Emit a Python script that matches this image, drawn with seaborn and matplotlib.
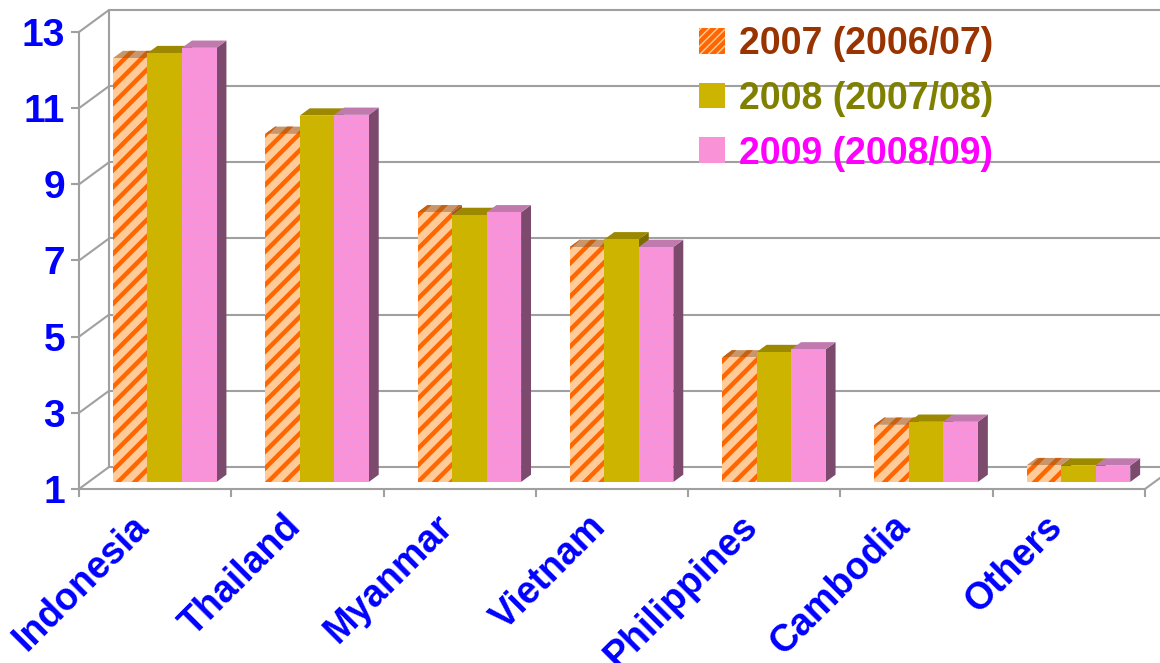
import numpy as np
import pandas as pd
import matplotlib
matplotlib.use('Agg')
import matplotlib.pyplot as plt
from matplotlib.patches import Polygon, Patch
from matplotlib.transforms import ScaledTranslation
import seaborn as sns

sns.set_style('white')
plt.rcParams['font.family'] = ['Liberation Sans', 'DejaVu Sans']
plt.rcParams['hatch.linewidth'] = 3.2

# Data
countries = ['Indonesia', 'Thailand', 'Myanmar', 'Vietnam', 'Philippines', 'Cambodia', 'Others']
years     = ['2007 (2006/07)', '2008 (2007/08)', '2009 (2008/09)']
v2007     = [12.13, 10.14, 8.08, 7.17, 4.27, 2.50, 1.44]
v2008     = [12.26, 10.62, 8.01, 7.37, 4.41, 2.58, 1.43]
v2009     = [12.40, 10.64, 8.08, 7.17, 4.48, 2.58, 1.43]
yticks    = [1, 3, 5, 7, 9, 11, 13]

# Styling
FACE       = ['#FFCC99', '#CCB400', '#FA92D8']
TOP        = ['#C8966A', '#9C8900', '#C07AAE']
SIDE       = ['#A0522D', '#7A6C00', '#7B4A6C']
STRIPE     = ['#FF6600', None, '#E49AF0']
HATCH      = ['//', None, '..']
TOP_STRIPE = ['#C86010', None, None]
TEXT_COL   = ['#993300', '#808000', '#FF00FF']
GRID       = '#A0A0A0'
BLUE       = '#0000FF'

# 3D depth (data units) and where the bars sit inside the depth
DX, DY = 0.197, 0.578
F0, F1 = 0.32, 0.65

df = pd.DataFrame({
    'country': countries * 3,
    'year': [y for y in years for _ in countries],
    'value': v2007 + v2008 + v2009,
})

fig = plt.figure(figsize=(11.6, 6.63), dpi=100)
ax = fig.add_axes([79 / 1160, 174 / 663, 1066 / 1160, 457 / 663])

sns.barplot(data=df, x='country', y='value', hue='year', hue_order=years,
            order=countries, palette=FACE, saturation=1, width=0.68,
            errorbar=None, legend=False, ax=ax)

ax.set_xlim(-0.5, len(countries) - 0.5)
ax.set_ylim(1, 13)

# turn flat bars into boxes
for k, cont in enumerate(ax.containers):
    for bar in cont.patches:
        h = bar.get_height()
        x0 = bar.get_x() + F0 * DX
        w = bar.get_width()
        y0 = 1 + F0 * DY
        top = h + F0 * DY
        bar.set_x(x0)
        bar.set_y(y0)
        bar.set_height(h - 1)
        bar.set_linewidth(0)
        bar.set_clip_on(False)
        z = 3 + k * 0.1
        bar.set_zorder(z + 0.02)
        if HATCH[k]:
            bar.set_edgecolor(STRIPE[k])
            bar.set_hatch(HATCH[k])
            if HATCH[k] == '..' and hasattr(bar, 'set_hatch_linewidth'):
                bar.set_hatch_linewidth(0.8)

        ddx, ddy = (F1 - F0) * DX, (F1 - F0) * DY
        side = Polygon([(x0 + w, y0), (x0 + w, top), (x0 + w + ddx, top + ddy),
                        (x0 + w + ddx, y0 + ddy)], closed=True,
                       facecolor=SIDE[k], linewidth=0, zorder=z, clip_on=False)
        ax.add_patch(side)
        cap = Polygon([(x0, top), (x0 + w, top), (x0 + w + ddx, top + ddy),
                       (x0 + ddx, top + ddy)], closed=True,
                      facecolor=TOP[k], linewidth=0, zorder=z + 0.01, clip_on=False)
        if TOP_STRIPE[k]:
            cap.set_edgecolor(TOP_STRIPE[k])
            cap.set_hatch('//')
        ax.add_patch(cap)

# back wall, floor and the diagonals
xl, xr = ax.get_xlim()
for v in yticks:
    ax.plot([xl + DX, xr + 2], [v + DY, v + DY], color=GRID, lw=1.5,
            zorder=1, clip_on=False)
    ax.plot([xl, xl + DX], [v, v + DY], color=GRID, lw=1.5, zorder=1, clip_on=False)
ax.plot([xl + DX, xl + DX], [1 + DY, 13 + DY], color=GRID, lw=1.5, zorder=1, clip_on=False)
ax.plot([xr, xr + DX], [1, 1 + DY], color=GRID, lw=1.5, zorder=1, clip_on=False)

for s in ['top', 'right']:
    ax.spines[s].set_visible(False)
for s in ['left', 'bottom']:
    ax.spines[s].set_color(GRID)
    ax.spines[s].set_linewidth(1.5)

ax.set_yticks(yticks)
ax.set_xticks(np.arange(len(countries) + 1) - 0.5)
ax.set_xticklabels([])
ax.tick_params(axis='both', direction='out', length=6, width=1.5, color=GRID)
ax.tick_params(axis='y', left=True, labelsize=28, labelcolor=BLUE, pad=4)
ax.tick_params(axis='x', bottom=True)
for lab in ax.get_yticklabels():
    lab.set_fontweight('bold')
ax.set_xlabel('')
ax.set_ylabel('')

# category names, rotated
off = ScaledTranslation(-0.12, -0.32, fig.dpi_scale_trans)
for i, name in enumerate(countries):
    ax.text(i, 1, name, rotation=45, rotation_mode='anchor', ha='right', va='center',
            fontsize=27, fontweight='bold', color=BLUE,
            transform=ax.transData + off, clip_on=False)

# legend
handles = [
    Patch(facecolor=FACE[0], edgecolor=STRIPE[0], hatch='////', linewidth=0),
    Patch(facecolor=FACE[1], linewidth=0),
    Patch(facecolor=FACE[2], linewidth=0),
]
leg = fig.legend(handles, years, loc='upper left',
                 bbox_to_anchor=(699 / 1160, 1 - 26 / 663),
                 frameon=False, borderpad=0, borderaxespad=0,
                 handlelength=0.68, handleheight=0.68, handletextpad=0.38,
                 labelspacing=0.5, prop={'size': 27, 'weight': 'bold'})
for t, c in zip(leg.get_texts(), TEXT_COL):
    t.set_color(c)

fig.savefig('out.png', dpi=100)
